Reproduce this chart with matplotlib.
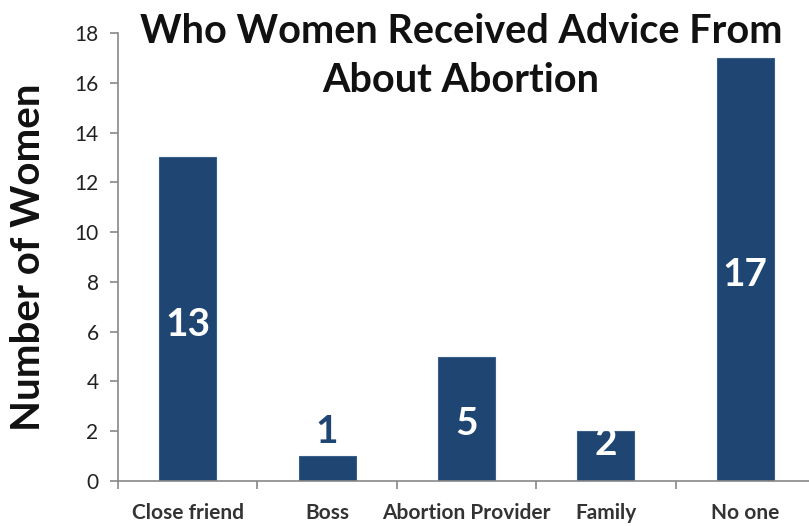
import matplotlib
matplotlib.use("Agg")
import matplotlib.pyplot as plt

categories = ["Close friend", "Boss", "Abortion Provider", "Family", "No one"]
values = [13, 1, 5, 2, 17]
yticks = [0, 2, 4, 6, 8, 10, 12, 14, 16, 18]

plt.rcParams['font.family'] = ['Lato', 'DejaVu Sans']

W, H = 809, 526
fig = plt.figure(figsize=(W / 100, H / 100), dpi=100)
ax_left, ax_right = 118, 815
ax_bottom, ax_top = 481, 33
ax = fig.add_axes([ax_left / W, 1 - ax_bottom / H, (ax_right - ax_left) / W, (ax_bottom - ax_top) / H])

bar_color = '#1F4573'
x = list(range(len(categories)))
ax.bar(x, values, width=0.41, color=bar_color, edgecolor='#3A5E8A', linewidth=0.8, zorder=2)

ax.set_xlim(-0.5, len(categories) - 0.5)
ax.set_ylim(0, 18)
ax.set_yticks(yticks)
ax.set_yticklabels([str(t) for t in yticks], fontsize=15, color='#222222')

ax.set_xticks(x)
ax.set_xticklabels(categories, fontsize=15, fontweight='bold', color='#333333')
ax.tick_params(axis='x', length=0, pad=16)
ax.set_xticks([i - 0.5 for i in range(len(categories) + 1)], minor=True)
ax.tick_params(axis='x', which='minor', length=6, width=1.2, color='#888888', direction='out')
ax.tick_params(axis='y', length=6, width=1.2, color='#888888', direction='out', pad=8)

for s in ['top', 'right']:
    ax.spines[s].set_visible(False)
for s in ['left', 'bottom']:
    ax.spines[s].set_color('#888888')
    ax.spines[s].set_linewidth(1.2)

ax.set_ylabel("Number of Women", fontsize=29, fontweight='bold', color='#111111', labelpad=20)

# value labels
for i, v in enumerate(values):
    if v >= 5:
        ax.text(i, v / 2 - 0.2, str(v), ha='center', va='center', color='white', fontsize=28, fontweight='bold')
    elif v >= 2:
        ax.text(i, v - 0.5, str(v), ha='center', va='center', color='white', fontsize=28, fontweight='bold')
    else:
        ax.text(i, v + 1.0, str(v), ha='center', va='center', color=bar_color, fontsize=28, fontweight='bold')

fig.text(461 / W, 1 - 56 / H, "Who Women Received Advice From\nAbout Abortion", ha='center', va='center',
         fontsize=28.5, fontweight='bold', color='#111111', linespacing=1.42)

fig.savefig("out.png", dpi=100)
